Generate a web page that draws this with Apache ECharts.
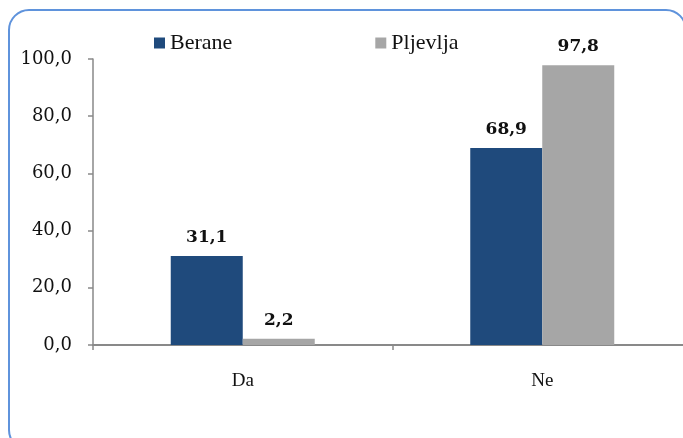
<!DOCTYPE html>
<html>
<head>
<meta charset="utf-8">
<script src="https://cdn.jsdelivr.net/npm/echarts@6/dist/echarts.min.js"></script>
<style>
  html, body { margin: 0; padding: 0; background: #ffffff; overflow: hidden; }
  /* the drawing surface is a bit wider than the window; its right edge is cropped */
  #chart { width: 700px; height: 438px; }
</style>
</head>
<body>
<div id="chart"></div>
<script>
// Answer categories and shares (%) for the two municipalities
const categories = ['Da', 'Ne'];
const berane = [31.1, 68.9];
const pljevlja = [2.2, 97.8];
const seriesNames = ['Berane', 'Pljevlja'];
const yTicks = { min: 0, max: 100, interval: 20 };

const numFont = 'DejaVu Serif';
const wordFont = '"Liberation Serif", serif';
const fmt = v => v.toFixed(1).replace('.', ',');

const chart = echarts.init(document.getElementById('chart'), null, { renderer: 'canvas' });

const labelStyle = {
  show: true,
  position: 'top',
  distance: 10,
  fontFamily: numFont,
  fontWeight: 'bold',
  fontSize: 17,
  color: '#111111',
  formatter: p => fmt(p.value)
};

chart.setOption({
  backgroundColor: '#ffffff',
  animation: false,
  graphic: [{
    type: 'rect',
    z: -1,
    shape: { x: 9, y: 10, width: 677, height: 440, r: 20 },
    style: { fill: 'none', stroke: '#5f93dc', lineWidth: 2 }
  }],
  legend: {
    left: 154,
    top: 32,
    padding: 0,
    icon: 'rect',
    itemWidth: 11,
    itemHeight: 11,
    itemGap: 143,
    textStyle: { fontFamily: wordFont, fontSize: 22, color: '#111111' },
    data: seriesNames
  },
  grid: { left: 93, top: 59, width: 599, height: 286, containLabel: false },
  xAxis: {
    type: 'category',
    data: categories,
    axisLine: { lineStyle: { color: '#898989', width: 2 } },
    axisTick: { show: true, length: 5, lineStyle: { color: '#898989', width: 1.5 } },
    axisLabel: { fontFamily: wordFont, fontSize: 19, color: '#111111', margin: 27 }
  },
  yAxis: {
    type: 'value',
    min: yTicks.min,
    max: yTicks.max,
    interval: yTicks.interval,
    axisLine: { show: true, lineStyle: { color: '#898989', width: 1.5 } },
    axisTick: { show: true, length: 5, lineStyle: { color: '#898989', width: 1.5 } },
    splitLine: { show: false },
    axisLabel: { fontFamily: numFont, fontSize: 18, color: '#111111', margin: 21, formatter: v => fmt(v) }
  },
  series: [
    {
      name: seriesNames[0],
      type: 'bar',
      data: berane,
      barWidth: 72,
      barGap: '0%',
      itemStyle: { color: '#1f4a7c' },
      label: labelStyle
    },
    {
      name: seriesNames[1],
      type: 'bar',
      data: pljevlja,
      barWidth: 72,
      barGap: '0%',
      itemStyle: { color: '#a6a6a6' },
      label: labelStyle
    }
  ]
});
</script>
</body>
</html>
